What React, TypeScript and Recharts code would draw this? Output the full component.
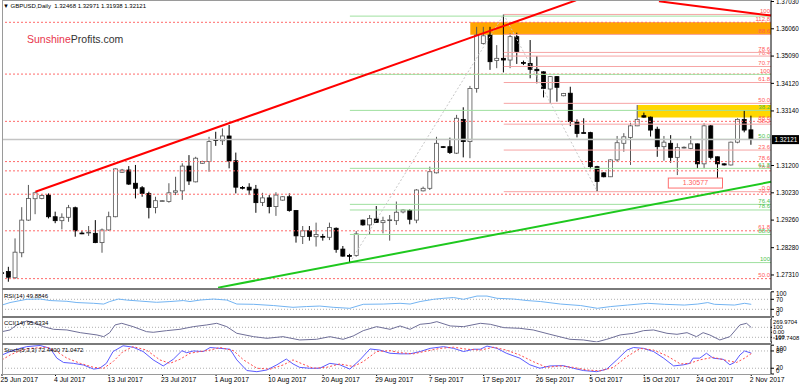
import React from "react";
import {
  ComposedChart,
  Bar,
  Line,
  XAxis,
  YAxis,
  ReferenceLine,
  ReferenceArea,
} from "recharts";

const FONT = '"Liberation Sans", Arial, sans-serif';

// daily bars, index 0 = 25 Jun 2017 (broker shows Sunday bars)
const opens = [
  1.2739, 1.2743, 1.2721, 1.281, 1.2926, 1.3002, 1.3003, 1.3015, 1.2938, 1.2924,
  1.2936, 1.297, 1.288, 1.2882, 1.2879, 1.2846, 1.2891, 1.2938, 1.3096, 1.3104,
  1.3057, 1.3041, 1.3021, 1.2971, 1.2994, 1.2992, 1.3025, 1.303, 1.3118, 1.3062,
  1.3128, 1.3134, 1.3212, 1.3208, 1.3225, 1.3137, 1.3042, 1.3043, 1.3036, 1.2989,
  1.3005, 1.2974, 1.2997, 1.3009, 1.296, 1.2868, 1.2888, 1.2867, 1.2868, 1.2865,
  1.2897, 1.2823, 1.28, 1.28, 1.2926, 1.2909, 1.293, 1.2917, 1.2926, 1.2924,
  1.2955, 1.296, 1.2926, 1.303, 1.3039, 1.3094, 1.3187, 1.3187, 1.3164, 1.3284,
  1.3205, 1.3394, 1.3554, 1.3584, 1.3493, 1.3501, 1.3495, 1.3578, 1.3486, 1.3483,
  1.3462, 1.3453, 1.3392, 1.3436, 1.3368, 1.3377, 1.3274, 1.3237, 1.3237, 1.3116,
  1.3094, 1.308, 1.314, 1.3199, 1.322, 1.3261, 1.3297, 1.3292, 1.3249, 1.3187,
  1.3199, 1.3149, 1.3184, 1.3181, 1.3197, 1.3126, 1.3261, 1.3151, 1.3126, 1.3122,
  1.3203, 1.3284, 1.32468,
];
const highs = [
  1.2742, 1.276, 1.2861, 1.2972, 1.3051, 1.3027, 1.3018, 1.3021, 1.2956, 1.295,
  1.298, 1.2974, 1.2888, 1.2905, 1.2926, 1.2896, 1.2956, 1.311, 1.3108, 1.3118,
  1.3122, 1.3047, 1.3027, 1.3009, 1.2997, 1.3057, 1.308, 1.3128, 1.3157, 1.3151,
  1.3137, 1.3222, 1.324, 1.3252, 1.3264, 1.3166, 1.3047, 1.3057, 1.3051, 1.3023,
  1.3015, 1.3025, 1.3011, 1.3021, 1.2962, 1.2905, 1.2905, 1.2917, 1.2877, 1.2917,
  1.29, 1.2834, 1.2806, 1.2887, 1.2928, 1.2944, 1.2976, 1.2938, 1.2944, 1.2992,
  1.2965, 1.2965, 1.3036, 1.3045, 1.3116, 1.3222, 1.3189, 1.3219, 1.33, 1.3327,
  1.3403, 1.3613, 1.3613, 1.3613, 1.3548, 1.3657, 1.359, 1.3592, 1.3493, 1.3566,
  1.3509, 1.3455, 1.3438, 1.3438, 1.3378, 1.34, 1.3284, 1.3288, 1.324, 1.3119,
  1.3096, 1.3142, 1.3225, 1.3235, 1.3272, 1.3335, 1.3308, 1.3294, 1.3258, 1.3225,
  1.3228, 1.3199, 1.3188, 1.3225, 1.3198, 1.327, 1.3264, 1.3152, 1.3128, 1.3205,
  1.3288, 1.3317, 1.32971,
];
const lows = [
  1.2735, 1.2707, 1.2717, 1.2794, 1.2923, 1.2947, 1.3, 1.2932, 1.2915, 1.2893,
  1.292, 1.2867, 1.2876, 1.287, 1.2844, 1.281, 1.2888, 1.2936, 1.3094, 1.3051,
  1.3003, 1.3009, 1.2932, 1.295, 1.2993, 1.2988, 1.3015, 1.2998, 1.3051, 1.306,
  1.3126, 1.3098, 1.319, 1.3193, 1.311, 1.3021, 1.3035, 1.3015, 1.2952, 1.2976,
  1.295, 1.2941, 1.2995, 1.2956, 1.2846, 1.2841, 1.2853, 1.2832, 1.2853, 1.2855,
  1.281, 1.2796, 1.2775, 1.2796, 1.2906, 1.2873, 1.2917, 1.2879, 1.2853, 1.2909,
  1.295, 1.2911, 1.2915, 1.3028, 1.3033, 1.3092, 1.3182, 1.3161, 1.3161, 1.3149,
  1.3146, 1.3379, 1.355, 1.346, 1.3466, 1.3451, 1.3466, 1.3481, 1.3477, 1.343,
  1.3412, 1.3362, 1.3341, 1.3347, 1.3366, 1.326, 1.322, 1.3235, 1.3107, 1.3027,
  1.3078, 1.3079, 1.3134, 1.3169, 1.3122, 1.326, 1.329, 1.3223, 1.3151, 1.3137,
  1.313, 1.3086, 1.3181, 1.3178, 1.311, 1.311, 1.3142, 1.3058, 1.312, 1.312,
  1.3199, 1.3238, 1.31938,
];
const closes = [
  1.2738, 1.2723, 1.2812, 1.2926, 1.3003, 1.3023, 1.3014, 1.2938, 1.2924, 1.2936,
  1.297, 1.2888, 1.2879, 1.2883, 1.2846, 1.2891, 1.2938, 1.3108, 1.3104, 1.3054,
  1.3039, 1.3021, 1.2971, 1.2995, 1.2995, 1.3023, 1.303, 1.3118, 1.3065, 1.3146,
  1.3134, 1.3205, 1.3209, 1.3225, 1.3136, 1.3043, 1.3041, 1.3033, 1.2988, 1.3005,
  1.2974, 1.3015, 1.3009, 1.296, 1.287, 1.2888, 1.2868, 1.2875, 1.2867, 1.29,
  1.2822, 1.2798, 1.2799, 1.2877, 1.2909, 1.2932, 1.2918, 1.2924, 1.2927, 1.2954,
  1.2962, 1.2929, 1.3033, 1.3039, 1.3098, 1.3199, 1.3186, 1.3166, 1.3288, 1.3205,
  1.3394, 1.3584, 1.3581, 1.3489, 1.3501, 1.3495, 1.3578, 1.3525, 1.3485, 1.3462,
  1.3457, 1.3394, 1.3436, 1.3398, 1.3376, 1.3276, 1.3234, 1.3236, 1.3116, 1.3063,
  1.308, 1.314, 1.3201, 1.3222, 1.3261, 1.3284, 1.3292, 1.3246, 1.3187, 1.3203,
  1.3149, 1.3184, 1.3185, 1.3197, 1.3126, 1.3261, 1.3149, 1.3126, 1.3122, 1.3203,
  1.3284, 1.3246, 1.32121,
];

const dateTicks = [0, 8, 16, 24, 32, 40, 48, 56, 64, 72, 80, 88, 96, 104, 112];
const dateLabels = [
  "25 Jun 2017", "4 Jul 2017", "13 Jul 2017", "23 Jul 2017", "1 Aug 2017",
  "10 Aug 2017", "20 Aug 2017", "29 Aug 2017", "7 Sep 2017", "17 Sep 2017",
  "26 Sep 2017", "5 Oct 2017", "15 Oct 2017", "24 Oct 2017", "2 Nov 2017",
];
const priceTicks = [1.3703, 1.3606, 1.3509, 1.3412, 1.3314, 1.312, 1.3023, 1.2926, 1.2828, 1.2731];
const lastPrice = 1.32121;

// fibonacci sets
const r2Labels = ["50.0", "61.8", "70.7", "76.4", "78.6", "88.6", "100", "112.8"];
const r2Prices = [1.2718, 1.2888, 1.3018, 1.3101, 1.3134, 1.3277, 1.3445, 1.3629];
const r1Labels = ["0.0", "23.6", "38.2", "50.0", "61.8", "70.7", "76.4", "78.6", "88.6", "100"];
const r1Prices = [1.3027, 1.3175, 1.3267, 1.3341, 1.3415, 1.3472, 1.3509, 1.3522, 1.3586, 1.3657];
const gLabels = ["", "", "38.2", "50.0", "61.8", "76.4", "78.6", "88.6", "100"];
const gPrices = [1.3651, 1.3444, 1.3316, 1.3213, 1.311, 1.2982, 1.2962, 1.2875, 1.2775];

// indicators: [bar index, value]
const rsiPoints: [number, number][] = [
  [0, 47], [1.2, 57], [3.7, 70], [5.7, 71], [7.2, 65], [9.7, 62], [11.2, 57], [13.7, 54],
  [15.2, 51], [16.1, 61], [17.4, 71], [18.6, 67], [20.6, 63], [23.1, 58], [25.1, 61],
  [27.1, 65], [28.1, 61], [29.6, 67], [31.6, 71], [33.6, 67], [35.1, 51], [37.6, 50],
  [40.6, 45], [43.5, 38], [45.5, 41], [47.5, 43], [49.5, 38], [52, 34], [54, 50], [57, 51],
  [59.5, 54], [61, 51], [62.5, 61], [64.5, 70], [66, 74], [67.5, 77], [69, 70], [71, 83],
  [72.5, 83], [74, 74], [76.5, 71], [78.5, 65], [80.5, 61], [83.5, 51], [86.5, 45], [89, 34],
  [91, 41], [93.5, 47], [96.5, 54], [99, 50], [102, 47], [104, 51], [105.5, 57], [106.5, 50],
  [109.5, 47], [111, 54], [112, 49.88],
];
const cciPoints: [number, number][] = [
  [0, 13], [1.2, 47], [2.2, 147], [3.7, 227], [4.7, 193], [6.2, 113], [7.7, 60], [9.7, 47],
  [11.7, -7], [14.2, -53], [15.2, -87], [16.1, -7], [16.9, 147], [17.9, 180], [19.6, 113],
  [21.6, 13], [22.6, 0], [24.6, 33], [26.6, 60], [28.6, 113], [30.6, 147], [32.1, 180],
  [33.6, 113], [35.1, -20], [37.6, -87], [39.6, -120], [42, -87], [44.5, -153], [47, -140],
  [49, -87], [51, -140], [52.5, -73], [54, 33], [56, 113], [58, 60], [59.5, 127], [61, 60],
  [62.5, 160], [64, 180], [65, 213], [67, 127], [69, 113], [71.5, 180], [73, 160], [75, 93],
  [77.4, 80], [79.4, 47], [81.9, -40], [84.9, -140], [86.9, -153], [88.9, -193], [90.4, -140],
  [92.4, -53], [94.4, -20], [95.9, 33], [97.4, 47], [99.4, -20], [100.9, -40], [102.4, -7],
  [103.8, -87], [104.8, -7], [105.8, -53], [107.3, -153], [108.8, -87], [110.3, 147],
  [111.3, 180], [112, 95.63],
];
const stochMain: [number, number][] = [
  [0, 66], [1.2, 78], [2.7, 89], [3.7, 95], [5.7, 99], [7.2, 89], [8.2, 55], [9.2, 40],
  [10.7, 37], [12.2, 31], [13.7, 17], [14.6, 20], [15.6, 37], [16.6, 78], [18.1, 98],
  [19.6, 93], [21.1, 78], [22.6, 49], [24.1, 28], [25.6, 51], [26.9, 81], [27.6, 74],
  [28.6, 80], [30.1, 78], [31.1, 92], [32.6, 89], [34.1, 86], [35.1, 49], [36.6, 12],
  [38.1, 8], [39.6, 14], [41.1, 32], [42.5, 52], [43.5, 35], [44.5, 23], [46, 20], [47.5, 20],
  [49, 37], [50.5, 32], [52, 17], [53.5, 49], [55, 87], [56.5, 83], [58, 72], [59.5, 70],
  [61, 70], [62.5, 78], [64, 89], [66, 95], [67.5, 89], [69, 78], [70.5, 86], [71.5, 86],
  [72.5, 97], [74, 89], [75.4, 72], [77.4, 55], [78.9, 32], [80.4, 20], [81.9, 28], [83.9, 29],
  [85.4, 20], [86.9, 12], [88.9, 8], [90.4, 17], [91.9, 49], [93.4, 83], [94.4, 92], [95.9, 89],
  [97.4, 78], [98.9, 55], [100.4, 28], [101.9, 32], [102.8, 37], [103.3, 55], [104.3, 55],
  [105.3, 72], [106.3, 55], [107.8, 51], [108.8, 32], [109.5, 40], [110.3, 66], [111, 80],
  [112, 72.44],
];
const stochSignal: [number, number][] = [
  [0, 49], [1.2, 66], [2.7, 81], [4.2, 89], [6.7, 93], [8.2, 78], [9.7, 55], [11.7, 37],
  [13.7, 23], [15.2, 20], [16.6, 43], [18.1, 78], [19.6, 95], [21.6, 83], [23.6, 49],
  [25.1, 37], [26.6, 51], [28.1, 72], [29.6, 78], [31.1, 83], [32.6, 92], [34.6, 81],
  [36.1, 49], [38.1, 20], [40.1, 17], [42.1, 32], [43.5, 49], [45, 34], [46.5, 20],
  [48.5, 23], [50.5, 35], [52.5, 26], [54, 43], [56, 78], [58, 81], [59.5, 74], [61.5, 70],
  [63.5, 80], [65.5, 89], [67.5, 93], [69.5, 86], [71.5, 83], [73.5, 93], [75.4, 83],
  [77.4, 66], [79.4, 43], [81.4, 23], [83.4, 28], [85.4, 23], [87.4, 14], [89.4, 11],
  [91.4, 23], [93.4, 60], [95.4, 89], [97.4, 83], [99.4, 63], [101.4, 35], [102.8, 37],
  [104.3, 49], [106.3, 58], [108.3, 47], [109.8, 40], [111, 55], [112, 71.05],
];

const candles = opens.map((o, i) => ({
  i,
  o,
  h: highs[i],
  l: lows[i],
  c: closes[i],
  range: [lows[i], highs[i]],
}));
const toData = (pts: [number, number][]) => pts.map(([i, v]) => ({ i, v }));

const X_DOMAIN: [number, number] = [0, 114.95];
const X_END = 114.95;

function Candle(props: any) {
  const { x, y, width, height, payload } = props;
  if (x == null || y == null || !payload) return null;
  const { o, h, l, c } = payload;
  const mid = x + width / 2;
  const span = h - l;
  const py = (v: number) => (span > 0 ? y + ((h - v) / span) * height : y);
  const top = py(Math.max(o, c));
  const bot = py(Math.min(o, c));
  const up = c >= o;
  const col = up ? "#555" : "#000";
  return (
    <g>
      <line x1={mid} x2={mid} y1={y} y2={y + Math.max(height, 0.5)} stroke={col} strokeWidth={1} />
      <rect
        x={mid - 2}
        y={top}
        width={4}
        height={Math.max(bot - top, 0.8)}
        fill={up ? "#fff" : "#000"}
        stroke={col}
        strokeWidth={0.8}
      />
    </g>
  );
}

const fibShape = (label: string, color: string, textColor: string, dash?: string) => (p: any) => (
  <g>
    <line x1={p.x1} y1={p.y1} x2={p.x2} y2={p.y2} stroke={color} strokeWidth={1} strokeDasharray={dash} />
    {label ? (
      <text x={Math.max(p.x1, p.x2) - 1} y={p.y1 - 1.5} textAnchor="end" fontSize={6} fontFamily={FONT} fill={textColor}>
        {label}
      </text>
    ) : null}
  </g>
);

const lastPriceShape = (p: any) => {
  const right = Math.max(p.x1, p.x2);
  return (
    <g>
      <line x1={p.x1} y1={p.y1} x2={p.x2} y2={p.y2} stroke="#c4c4c4" strokeWidth={1.5} />
      <rect x={right + 1} y={p.y1 - 4.5} width={27} height={9} fill="#000" />
      <text x={right + 3.5} y={p.y1 + 2.2} fontSize={6.3} fontFamily={FONT} fill="#fff">
        {lastPrice.toFixed(5)}
      </text>
    </g>
  );
};

const lowTagShape = (p: any) => {
  const a = Math.min(p.x1, p.x2);
  const b = Math.max(p.x1, p.x2);
  return (
    <g>
      <rect x={a} y={p.y1 - 5} width={b - a} height={10} fill="#fff" stroke="#ff7070" strokeWidth={1} />
      <text x={(a + b) / 2} y={p.y1 + 2.3} textAnchor="middle" fontSize={7} fontFamily={FONT} fill="#ff6060">
        1.30577
      </text>
    </g>
  );
};

const clampTick = (lo: number, hi: number, fmt: (v: number) => string, size = 6.3) => (p: any) => {
  const y = Math.min(hi, Math.max(lo, p.y));
  return (
    <text x={p.x} y={y} dy="0.35em" fontSize={size} fontFamily={FONT} fill="#000" textAnchor="start">
      {fmt(p.payload.value)}
    </text>
  );
};

const DateTick = (p: any) => {
  const idx = dateTicks.indexOf(p.payload.value);
  return (
    <text x={p.x - 1.5} y={37.6} fontSize={6.8} fontFamily={FONT} fill="#000" textAnchor="start">
      {dateLabels[idx]}
    </text>
  );
};

const cciFmt = (v: number) => {
  if (v === 0) return "0.00";
  if (v === 100 || v === -100) return String(v);
  return v.toFixed(4);
};

export default function App() {
  return (
    <div style={{ position: "absolute", left: 0, top: 0, width: 800, height: 386, background: "#fff", overflow: "hidden" }}>
      {/* main price panel */}
      <div style={{ position: "absolute", left: 0, top: 0 }}>
        <ComposedChart width={800} height={288} data={candles} margin={{ top: 0, right: 0, bottom: 0, left: 2 }}>
          <XAxis dataKey="i" type="number" domain={X_DOMAIN} hide allowDataOverflow />
          <YAxis
            orientation="right"
            domain={[1.26847, 1.37083]}
            ticks={priceTicks}
            interval={0}
            width={29}
            tickSize={3}
            tickMargin={2}
            allowDataOverflow
            tickFormatter={(v: number) => v.toFixed(5)}
            tick={{ fontSize: 6.3, fill: "#000", fontFamily: FONT }}
            axisLine={{ stroke: "#000" }}
            tickLine={{ stroke: "#000" }}
          />
          <ReferenceArea x1={70} x2={X_END} y1={1.3585} y2={1.3629} fill="#ffa500" fillOpacity={1} stroke="none" />
          <ReferenceArea x1={95} x2={X_END} y1={1.3291} y2={1.3335} fill="#ffd700" fillOpacity={1} stroke="none" />
          {r2Prices.map((p, k) => (
            <ReferenceLine key={"r2" + k} y={p} shape={fibShape(r2Labels[k], "#ff6a6a", "#ff5a5a", "2 2")} />
          ))}
          {gPrices.map((p, k) => (
            <ReferenceLine
              key={"g" + k}
              segment={[{ x: 52, y: p }, { x: X_END, y: p }]}
              shape={fibShape(gLabels[k], "#9fe09f", "#4cbf4c")}
            />
          ))}
          {r1Prices.map((p, k) => (
            <ReferenceLine
              key={"r1" + k}
              segment={[{ x: 75, y: p }, { x: X_END, y: p }]}
              shape={fibShape(r1Labels[k], "#f6a4a4", "#ff5a5a")}
            />
          ))}
          <ReferenceLine y={lastPrice} shape={lastPriceShape} />
          <ReferenceLine segment={[{ x: 52, y: 1.2775 }, { x: 75, y: 1.3657 }]} stroke="#c8c8c8" strokeDasharray="2 2" />
          <ReferenceLine segment={[{ x: 75, y: 1.3657 }, { x: 89, y: 1.3027 }]} stroke="#c8c8c8" strokeDasharray="2 2" />
          <ReferenceLine segment={[{ x: 99.6, y: 1.30577 }, { x: 107.7, y: 1.30577 }]} shape={lowTagShape} />
          <ReferenceLine segment={[{ x: 5, y: 1.3027 }, { x: 85.8, y: 1.3707 }]} stroke="#ff0000" strokeWidth={2} />
          <ReferenceLine segment={[{ x: 98.2, y: 1.3704 }, { x: X_END, y: 1.3653 }]} stroke="#ff0000" strokeWidth={2} />
          <ReferenceLine segment={[{ x: 32.3, y: 1.2686 }, { x: X_END, y: 1.3062 }]} stroke="#1ec81e" strokeWidth={2} />
          <Bar dataKey="range" barSize={4} shape={(p: any) => <Candle {...p} />} isAnimationActive={false} />
        </ComposedChart>
      </div>

      {/* RSI */}
      <div style={{ position: "absolute", left: 0, top: 290 }}>
        <ComposedChart width={800} height={28} margin={{ top: 1.8, right: 0, bottom: 1.2, left: 2 }}>
          <XAxis dataKey="i" type="number" domain={X_DOMAIN} hide allowDataOverflow />
          <YAxis
            orientation="right"
            domain={[0, 100]}
            ticks={[0, 30, 70, 100]}
            interval={0}
            width={29}
            tickSize={3}
            tickMargin={2}
            tick={clampTick(4, 23.7, (v) => String(v))}
            axisLine={{ stroke: "#000" }}
            tickLine={{ stroke: "#000" }}
          />
          <ReferenceLine y={70} stroke="#b0b0b0" strokeDasharray="1 2" />
          <ReferenceLine y={30} stroke="#b0b0b0" strokeDasharray="1 2" />
          <Line data={toData(rsiPoints)} dataKey="v" type="linear" dot={false} stroke="#73b4f2" strokeWidth={1} isAnimationActive={false} />
        </ComposedChart>
      </div>

      {/* CCI */}
      <div style={{ position: "absolute", left: 0, top: 317 }}>
        <ComposedChart width={800} height={27} margin={{ top: 1.8, right: 0, bottom: 1.8, left: 2 }}>
          <XAxis dataKey="i" type="number" domain={X_DOMAIN} hide allowDataOverflow />
          <YAxis
            orientation="right"
            domain={[-197.7408, 269.9704]}
            ticks={[269.9704, 100, 0, -100, -197.7408]}
            interval={0}
            width={29}
            tickSize={1}
            tickMargin={1}
            allowDataOverflow
            tick={clampTick(4.7, 21, cciFmt, 5.8)}
            axisLine={{ stroke: "#000" }}
            tickLine={{ stroke: "#000" }}
          />
          <ReferenceLine y={100} stroke="#b0b0b0" strokeDasharray="1 2" />
          <ReferenceLine y={-100} stroke="#b0b0b0" strokeDasharray="1 2" />
          <Line data={toData(cciPoints)} dataKey="v" type="linear" dot={false} stroke="#6f6f98" strokeWidth={1} isAnimationActive={false} />
        </ComposedChart>
      </div>

      {/* Stochastic + time axis */}
      <div style={{ position: "absolute", left: 0, top: 344 }}>
        <ComposedChart width={800} height={42} margin={{ top: 1.2, right: 0, bottom: 0, left: 2 }}>
          <XAxis
            dataKey="i"
            type="number"
            domain={X_DOMAIN}
            allowDataOverflow
            ticks={dateTicks}
            interval={0}
            height={12}
            tickSize={2}
            axisLine={false}
            tickLine={{ stroke: "#000" }}
            tick={DateTick}
          />
          <YAxis
            orientation="right"
            domain={[0, 100]}
            ticks={[0, 20, 80, 100]}
            interval={0}
            width={29}
            tickSize={3}
            tickMargin={2}
            tick={clampTick(4.3, 26.7, (v) => String(v))}
            axisLine={{ stroke: "#000" }}
            tickLine={{ stroke: "#000" }}
          />
          <ReferenceLine y={80} stroke="#b0b0b0" strokeDasharray="1 2" />
          <ReferenceLine y={20} stroke="#b0b0b0" strokeDasharray="1 2" />
          <Line data={toData(stochMain)} dataKey="v" type="linear" dot={false} stroke="#5a5aff" strokeWidth={1} isAnimationActive={false} />
          <Line data={toData(stochSignal)} dataKey="v" type="linear" dot={false} stroke="#ff4a4a" strokeWidth={1} strokeDasharray="2 2" isAnimationActive={false} />
        </ComposedChart>
      </div>

      {/* frame and panel separators */}
      <div style={{ position: "absolute", left: 2, top: 0, width: 1, height: 374, background: "#9a9a9a" }} />
      <div style={{ position: "absolute", left: 2, top: 0, width: 769, height: 1, background: "#9a9a9a" }} />
      <div style={{ position: "absolute", left: 2, top: 288, width: 770, height: 2, background: "#7a7a7a" }} />
      <div style={{ position: "absolute", left: 2, top: 316, width: 770, height: 2, background: "#7a7a7a" }} />
      <div style={{ position: "absolute", left: 2, top: 342.5, width: 770, height: 2, background: "#7a7a7a" }} />
      <div style={{ position: "absolute", left: 2, top: 373.5, width: 770, height: 1, background: "#9a9a9a" }} />

      {/* texts */}
      <div style={{ position: "absolute", left: 3, top: 2, fontFamily: FONT, fontSize: 6, color: "#000", whiteSpace: "pre", lineHeight: "8px" }}>
        {"\u25BC GBPUSD,Daily  1.32468 1.32971 1.31938 1.32121"}
      </div>
      <div style={{ position: "absolute", left: 27, top: 32, fontFamily: FONT, fontSize: 10.5, lineHeight: "14px", whiteSpace: "pre" }}>
        <span style={{ color: "#e8354c" }}>Sunshine</span>
        <span style={{ color: "#333" }}>Profits.com</span>
      </div>
      <div style={{ position: "absolute", left: 4, top: 291.5, fontFamily: FONT, fontSize: 6, lineHeight: "8px", color: "#000" }}>RSI(14) 49.8846</div>
      <div style={{ position: "absolute", left: 4, top: 319, fontFamily: FONT, fontSize: 6, lineHeight: "8px", color: "#000" }}>CCI(14) 95.6334</div>
      <div style={{ position: "absolute", left: 4, top: 345.5, fontFamily: FONT, fontSize: 6, lineHeight: "8px", color: "#000" }}>Stoch(5,3,3) 72.4400 71.0472</div>
    </div>
  );
}
